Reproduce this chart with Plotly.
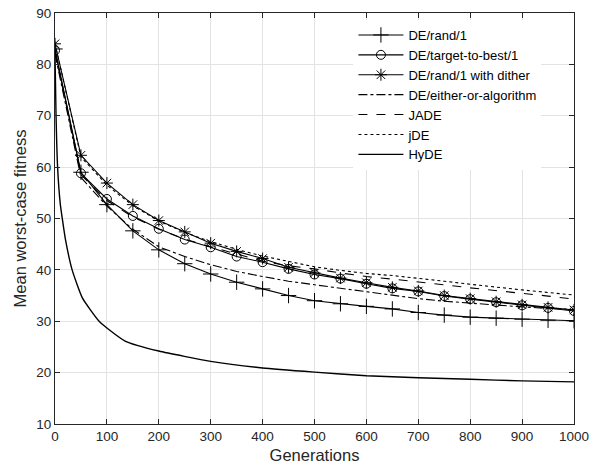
import plotly.graph_objects as go

# generations where the marked curves are sampled
gens = [0, 50, 100, 150, 200, 250, 300, 350, 400, 450, 500,
        550, 600, 650, 700, 750, 800, 850, 900, 950, 1000]

de_rand1 = [83.0, 59.0, 52.7, 47.6, 43.9, 41.2, 39.2, 37.6, 36.3, 35.0, 34.0,
            33.4, 32.9, 32.4, 31.7, 31.2, 30.8, 30.6, 30.4, 30.2, 30.1]
de_ttb1 = [82.7, 58.8, 53.8, 50.5, 48.0, 45.9, 44.4, 42.6, 41.5, 40.2, 39.1,
           38.3, 37.3, 36.4, 35.8, 34.9, 34.3, 33.7, 33.1, 32.6, 32.0]
de_dither = [84.0, 62.3, 56.9, 52.7, 49.6, 47.4, 45.2, 43.6, 42.2, 40.5, 39.4,
             38.4, 37.5, 36.6, 35.9, 35.0, 34.4, 33.8, 33.2, 32.7, 32.2]
de_eitheror = [82.0, 58.0, 52.4, 47.9, 44.5, 42.6, 41.0, 39.7, 38.7, 37.8, 37.1,
               36.4, 35.8, 35.1, 34.4, 33.9, 33.5, 33.1, 32.8, 32.5, 32.3]
jade = [82.5, 58.5, 53.5, 50.3, 47.9, 46.0, 44.5, 43.1, 41.7, 40.8, 40.2,
        39.4, 38.7, 38.2, 37.7, 37.1, 36.5, 36.0, 35.4, 34.9, 34.3]
jde = [84.0, 62.0, 56.5, 52.5, 49.5, 47.3, 45.5, 44.0, 42.7, 41.6, 40.6,
       39.9, 39.3, 38.9, 38.4, 37.8, 37.2, 36.6, 36.1, 35.6, 35.1]

hyde_gens = [0, 2, 5, 10, 14, 20, 33, 53, 85, 100, 136, 200, 300, 400, 500,
             600, 700, 800, 900, 1000]
hyde = [82.0, 70.0, 60.0, 53.0, 50.0, 46.0, 40.0, 34.5, 30.0, 28.7, 26.1, 24.2,
        22.2, 20.9, 20.1, 19.4, 19.0, 18.7, 18.4, 18.2]

x_ticks = list(range(0, 1001, 100))
y_ticks = list(range(10, 91, 10))

font = 'Liberation Sans, Arial, sans-serif'

fig = go.Figure()

series = [
    ('DE/rand/1', gens, de_rand1, 'solid', 'cross-thin-open', 11),
    ('DE/target-to-best/1', gens, de_ttb1, 'solid', 'circle-open', 9),
    ('DE/rand/1 with dither', gens, de_dither, 'solid', 'asterisk-open', 10),
    ('DE/either-or-algorithm', gens, de_eitheror, 'dashdot', None, 0),
    ('JADE', gens, jade, 'dash', None, 0),
    ('jDE', gens, jde, 'dot', None, 0),
]

for name, xs, ys, dash, symbol, size in series:
    mode = 'lines+markers' if symbol else 'lines'
    fig.add_trace(go.Scatter(
        x=xs, y=ys, name=name, mode=mode,
        line=dict(color='black', width=1.1, dash=dash),
        marker=dict(symbol=symbol or 'circle', size=size, color='black',
                    line=dict(color='black', width=1)),
    ))

fig.add_trace(go.Scatter(
    x=hyde_gens, y=hyde, name='HyDE', mode='lines',
    line=dict(color='black', width=1.4, shape='spline', smoothing=0.5),
))

axis_style = dict(
    showgrid=True, gridcolor='#e3e3e3', gridwidth=1,
    showline=True, linecolor='#262626', linewidth=1, mirror='allticks',
    ticks='inside', ticklen=5, tickcolor='#262626', zeroline=False,
    tickfont=dict(size=13.5), automargin=False,
)

fig.update_layout(
    width=592, height=470,
    margin=dict(l=55, r=18, t=13, b=46),
    paper_bgcolor='white', plot_bgcolor='white',
    font=dict(family=font, size=13.5, color='#262626'),
    showlegend=True,
    legend=dict(
        x=0.575, y=0.983, xanchor='left', yanchor='top',
        bgcolor='white', borderwidth=0, itemwidth=45,
        font=dict(size=13, color='black'),
        tracegroupgap=0,
    ),
    xaxis=dict(
        range=[0, 1000], tickvals=x_ticks,
        title=dict(text='Generations', font=dict(size=16.5), standoff=6),
        **axis_style,
    ),
    yaxis=dict(
        range=[10, 90], tickvals=y_ticks,
        title=dict(text='Mean worst-case fitness', font=dict(size=16.5), standoff=5),
        **axis_style,
    ),
)

# the page body has a default 8px margin; drop it so the figure fills the window
fig.write_html('out.html', config={'displayModeBar': False},
               post_script="document.body.style.margin='0';")
